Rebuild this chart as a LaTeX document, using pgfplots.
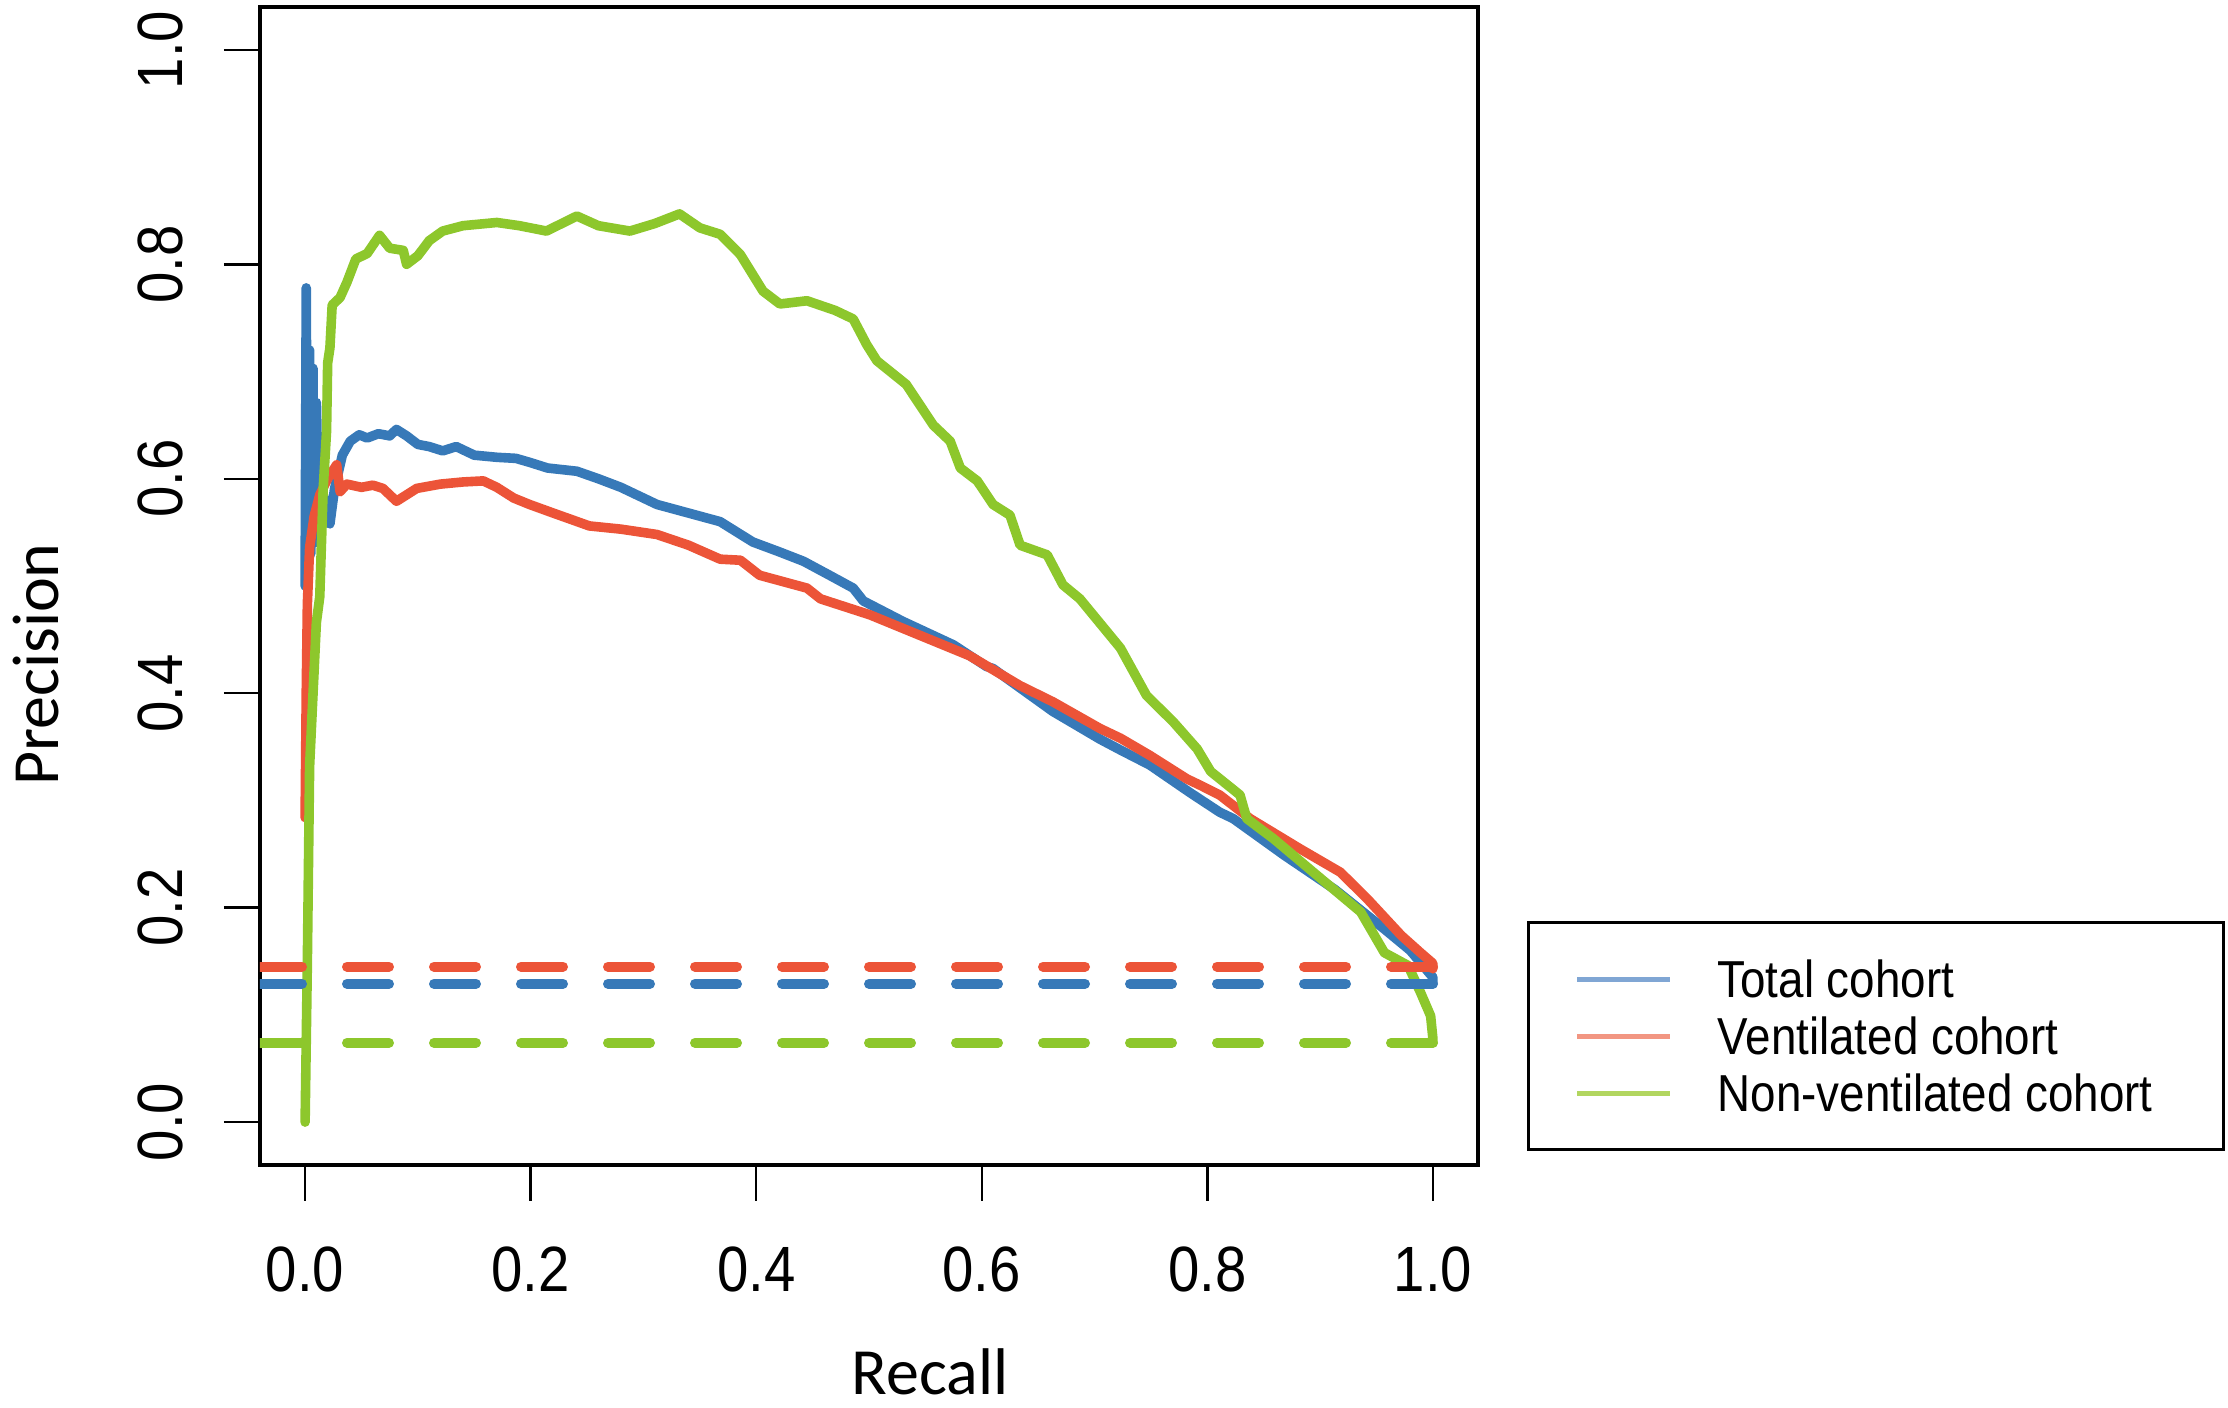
\documentclass[border=0pt]{standalone}
\usepackage{fontspec}
\setmainfont{Liberation Sans}
\newfontfamily\tickfont[FakeStretch=0.88]{Liberation Sans}
\newfontfamily\labfont{Carlito}
\usepackage{pgfplots}
\pgfplotsset{compat=1.18}
\definecolor{cblue}{RGB}{55,121,184}
\definecolor{cred}{RGB}{236,84,56}
\definecolor{cgreen}{RGB}{141,199,44}
\definecolor{lblue}{RGB}{128,166,212}
\definecolor{lred}{RGB}{242,150,130}
\definecolor{lgreen}{RGB}{178,214,96}
\begin{document}
\begin{tikzpicture}
\begin{axis}[
  width=304.5pt, height=289.5pt, scale only axis,
  xmin=-0.04, xmax=1.04, ymin=-0.04, ymax=1.04,
  xtick={0,0.2,0.4,0.6,0.8,1}, xticklabels={0.0,0.2,0.4,0.6,0.8,1.0},
  ytick={0,0.2,0.4,0.6,0.8,1}, yticklabels={0.0,0.2,0.4,0.6,0.8,1.0},
  xtick pos=left, ytick pos=left,
  tick align=outside, major tick length=9pt,
  tick style={black, line width=0.6pt},
  axis line style={black, line width=0.8pt},
  /pgf/number format/assume math mode=true,
  ticklabel style={font=\tickfont\fontsize{16}{19}\selectfont},
  xticklabel style={anchor=center}, xticklabel shift=17pt,
  yticklabel style={rotate=90, anchor=center}, yticklabel shift=16pt,
  xlabel={Recall}, ylabel={Precision},
  xlabel style={at={(axis description cs:0.55,-0.1788)}, anchor=center, font=\labfont\fontsize{16.5}{19}\selectfont},
  ylabel style={at={(axis description cs:-0.184,0.432)}, anchor=center, font=\labfont\fontsize{16.5}{19}\selectfont},
  legend cell align=left,
  legend style={at={(axis description cs:1.0402,0.2107)}, anchor=north west,
    draw=black, line width=0.8pt, fill=white,
    inner xsep=11.5pt, inner ysep=7pt,
    font=\tickfont\fontsize{13}{15}\selectfont,
    nodes={inner sep=0pt, text depth=0pt, minimum height=14.25pt},
    /tikz/column sep=11.25pt, /tikz/row sep=0pt},
  legend image code/.code={\draw[#1] (0pt,0pt) -- (23.25pt,0pt);},
]
% Total cohort
\addplot[cblue, line width=2.4pt, line join=round, line cap=round, forget plot] coordinates {
(0.000,0.500) (0.001,0.778) (0.002,0.520) (0.004,0.720) (0.005,0.530) (0.007,0.703)
(0.008,0.540) (0.010,0.671) (0.012,0.560) (0.016,0.585) (0.022,0.558) (0.026,0.590)
(0.033,0.622) (0.040,0.635) (0.048,0.641) (0.055,0.638) (0.065,0.642) (0.075,0.640)
(0.081,0.646) (0.090,0.640) (0.100,0.632) (0.110,0.630) (0.122,0.626) (0.134,0.630)
(0.150,0.622) (0.170,0.620) (0.187,0.619) (0.200,0.615) (0.215,0.610) (0.241,0.607)
(0.260,0.600) (0.280,0.592) (0.312,0.576) (0.340,0.568) (0.368,0.560) (0.397,0.541)
(0.420,0.532) (0.442,0.523) (0.465,0.510) (0.486,0.498) (0.495,0.486) (0.530,0.467)
(0.575,0.445) (0.604,0.425) (0.610,0.423) (0.663,0.383) (0.705,0.357) (0.723,0.347)
(0.749,0.333) (0.785,0.307) (0.811,0.289) (0.823,0.283) (0.868,0.249) (0.913,0.217)
(0.957,0.180) (0.980,0.160) (1.000,0.135) (1.000,0.130)
};
% Ventilated cohort
\addplot[cred, line width=2.4pt, line join=round, line cap=round, forget plot] coordinates {
(0.000,0.284) (0.001,0.400) (0.002,0.483) (0.004,0.536) (0.008,0.565) (0.013,0.585)
(0.020,0.600) (0.028,0.613) (0.031,0.588) (0.037,0.595) (0.050,0.592) (0.060,0.594)
(0.069,0.591) (0.081,0.579) (0.090,0.585) (0.099,0.591) (0.120,0.595) (0.140,0.597)
(0.158,0.598) (0.170,0.592) (0.185,0.582) (0.199,0.576) (0.220,0.568) (0.252,0.556)
(0.280,0.553) (0.312,0.548) (0.340,0.538) (0.368,0.525) (0.386,0.524) (0.403,0.510)
(0.445,0.498) (0.457,0.488) (0.501,0.473) (0.545,0.454) (0.589,0.435) (0.634,0.407)
(0.663,0.392) (0.705,0.367) (0.723,0.358) (0.749,0.342) (0.782,0.320) (0.794,0.314)
(0.811,0.305) (0.838,0.283) (0.882,0.255) (0.918,0.233) (0.942,0.208) (0.972,0.174)
(0.989,0.158) (1.000,0.148) (1.000,0.143)
};
% Non-ventilated cohort
\addplot[cgreen, line width=2.4pt, line join=round, line cap=round, forget plot] coordinates {
(0.000,0.000) (0.002,0.150) (0.004,0.332) (0.010,0.466) (0.013,0.490) (0.016,0.590)
(0.019,0.644) (0.020,0.708) (0.022,0.722) (0.024,0.762) (0.031,0.769) (0.037,0.783)
(0.045,0.805) (0.055,0.810) (0.066,0.827) (0.075,0.815) (0.087,0.813) (0.090,0.800)
(0.100,0.808) (0.110,0.822) (0.122,0.831) (0.140,0.836) (0.170,0.839) (0.190,0.836)
(0.214,0.831) (0.241,0.845) (0.260,0.836) (0.288,0.831) (0.310,0.838) (0.332,0.847)
(0.350,0.834) (0.368,0.828) (0.386,0.809) (0.406,0.775) (0.421,0.763) (0.445,0.766)
(0.470,0.757) (0.486,0.749) (0.498,0.725) (0.507,0.710) (0.533,0.688) (0.557,0.650)
(0.572,0.635) (0.581,0.610) (0.596,0.598) (0.610,0.576) (0.625,0.566) (0.634,0.538)
(0.658,0.529) (0.672,0.501) (0.687,0.488) (0.705,0.465) (0.723,0.442) (0.746,0.398)
(0.770,0.373) (0.791,0.348) (0.803,0.327) (0.829,0.305) (0.835,0.283) (0.859,0.264)
(0.894,0.233) (0.936,0.196) (0.957,0.158) (0.978,0.146) (0.989,0.121) (0.998,0.099)
(1.000,0.078) (1.000,0.074)
};
% baselines
\addplot[cblue, line width=2.5pt, line cap=round, dash pattern=on 10.5pt off 11.25pt, forget plot] coordinates {(-0.04,0.129) (1.04,0.129)};
\addplot[cred, line width=2.5pt, line cap=round, dash pattern=on 10.5pt off 11.25pt, forget plot] coordinates {(-0.04,0.145) (1.04,0.145)};
\addplot[cgreen, line width=2.5pt, line cap=round, dash pattern=on 10.5pt off 11.25pt, forget plot] coordinates {(-0.04,0.074) (1.04,0.074)};
\addlegendimage{lblue, line width=1.25pt}
\addlegendentry{\makebox[115pt][l]{Total cohort}}
\addlegendimage{lred, line width=1.25pt}
\addlegendentry{\makebox[115pt][l]{Ventilated cohort}}
\addlegendimage{lgreen, line width=1.25pt}
\addlegendentry{\makebox[115pt][l]{Non-ventilated cohort}}
\end{axis}
\pgfresetboundingbox
\path[use as bounding box] (-65pt,-60.75pt) rectangle (492pt,291.25pt);
\end{tikzpicture}
\end{document}
